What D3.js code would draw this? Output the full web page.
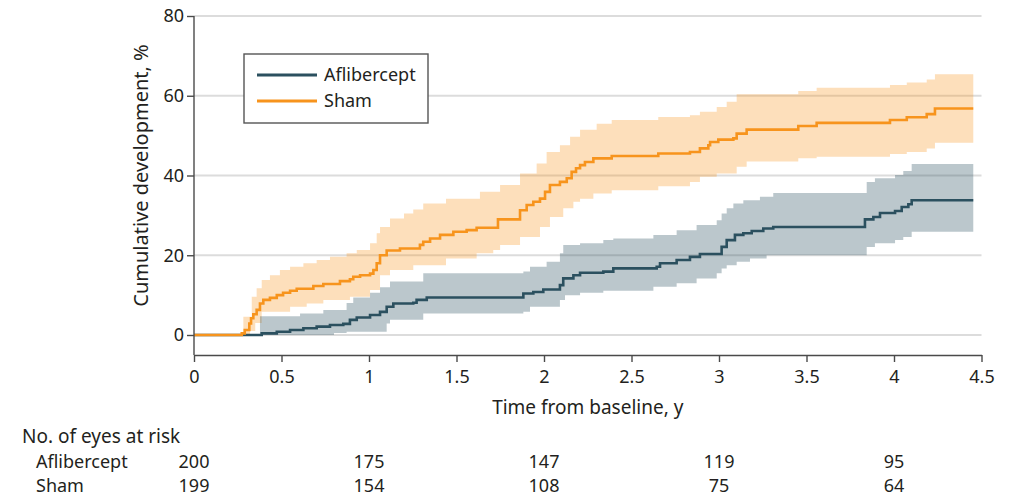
<!DOCTYPE html>
<meta charset="utf-8">
<style>
body { margin: 0; background: #fff; font-family: "Noto Sans", sans-serif; }
.grid line { stroke: #dcdcdc; stroke-width: 2; }
.axis path, .axis line { stroke: #4a4a4a; stroke-width: 1.4; }
.axis text { font-size: 18px; fill: #231f20; font-family: "Noto Sans", sans-serif; }
.lbl { fill: #231f20; }
</style>
<body>
<script src="https://cdnjs.cloudflare.com/ajax/libs/d3/7.8.5/d3.min.js"></script>
<script>
// ---------------- data ----------------
var tEnd = 4.453;

// Sham: Kaplan-Meier estimate (cumulative %)
var shamT   = [0, 0.273, 0.29, 0.316, 0.326, 0.339, 0.358, 0.377, 0.396, 0.434, 0.473, 0.509, 0.549, 0.587, 0.682, 0.739, 0.834, 0.891, 0.91, 0.949, 1.006, 1.025, 1.044, 1.063, 1.101, 1.177, 1.291, 1.31, 1.349, 1.406, 1.482, 1.558, 1.615, 1.737, 1.863, 1.901, 1.939, 1.977, 2.006, 2.034, 2.091, 2.13, 2.158, 2.183, 2.206, 2.234, 2.282, 2.387, 2.653, 2.834, 2.891, 2.939, 2.949, 2.996, 3.082, 3.101, 3.158, 3.453, 3.558, 3.977, 4.073, 4.187, 4.234];
var shamEst = [0, 0.4, 1.25, 2.9, 4.2, 5.2, 6.3, 7.9, 8.8, 9.3, 10, 10.6, 11.1, 11.6, 12.3, 12.8, 13.5, 14, 14.6, 15, 15.4, 16.3, 18, 20, 21.2, 21.7, 22.6, 23.4, 24.2, 25.1, 25.9, 26.3, 26.9, 29, 31.3, 32.6, 33.4, 34.2, 35.9, 37.6, 38.4, 39.3, 40.9, 41.8, 42.6, 43.4, 44.3, 44.9, 45.5, 45.9, 46.8, 47.6, 48.4, 49, 49.3, 50.5, 51.5, 52.4, 53.2, 53.9, 54.6, 55.4, 56.8];
// Sham: 95% CI
var shamBandT = [0.273, 0.282, 0.32, 0.33, 0.35, 0.358, 0.387, 0.434, 0.491, 0.549, 0.625, 0.644, 0.701, 0.739, 0.777, 0.872, 0.891, 0.93, 1.006, 1.044, 1.063, 1.12, 1.2, 1.253, 1.31, 1.44, 1.615, 1.634, 1.71, 1.749, 1.863, 1.958, 1.977, 2.015, 2.034, 2.091, 2.11, 2.149, 2.168, 2.206, 2.282, 2.301, 2.387, 2.653, 2.834, 2.891, 2.987, 3.044, 3.101, 3.158, 3.453, 3.558, 3.977, 4.073, 4.187, 4.234];
var shamLo = [0, 0, 1, 1, 3, 3, 5.8, 5.8, 5.8, 7.1, 7.1, 7.9, 7.9, 8.8, 8.8, 8.8, 9.6, 9.6, 11.3, 11.3, 15, 16.3, 16.3, 17.5, 17.5, 19.2, 20.5, 20.5, 21.3, 22.6, 24.6, 24.6, 27.1, 27.1, 29.6, 29.6, 31.8, 31.8, 33.4, 34.2, 35.5, 35.5, 36.3, 37.3, 38.4, 39.7, 40.5, 40.5, 42.2, 43.5, 44.3, 44.7, 45.4, 45.9, 46.8, 48.2];
var shamHi = [0, 4.6, 4.6, 9.6, 9.6, 11.7, 13.8, 15, 16.3, 17.1, 18, 18, 18.8, 18.8, 19.6, 20.5, 20.5, 21.3, 23, 25.5, 27.1, 29.2, 30.5, 31.5, 33, 34.2, 34.2, 35.9, 35.9, 37.6, 40.5, 43, 43, 45.9, 45.9, 47.6, 47.6, 49.7, 49.7, 51.5, 51.5, 53, 53.9, 54.7, 55.1, 56, 57.2, 58.5, 60.4, 60.4, 61.2, 62, 62.7, 63.3, 64.1, 65.4];

// Aflibercept: Kaplan-Meier estimate (cumulative %)
var aflT   = [0, 0.33, 0.387, 0.473, 0.549, 0.625, 0.701, 0.777, 0.853, 0.891, 0.93, 1.006, 1.063, 1.101, 1.139, 1.253, 1.272, 1.33, 1.882, 1.939, 1.996, 2.091, 2.11, 2.168, 2.206, 2.339, 2.396, 2.644, 2.663, 2.758, 2.834, 2.891, 3.015, 3.044, 3.091, 3.139, 3.187, 3.253, 3.31, 3.834, 3.882, 3.92, 4.006, 4.044, 4.082, 4.101];
var aflEst = [0, 0, 0.4, 0.8, 1.25, 1.7, 2.1, 2.5, 2.8, 3.8, 4.4, 5, 5.8, 7.1, 7.9, 8.1, 8.8, 9.4, 10.4, 10.8, 11.4, 12.5, 14.2, 15, 15.6, 15.9, 16.7, 17.1, 18, 18.8, 19.6, 20.3, 22.1, 23.8, 25.1, 25.5, 26.1, 26.7, 27.1, 29, 29.6, 30.6, 31.1, 32.1, 32.8, 33.8];
// Aflibercept: 95% CI
var aflBandT = [0.377, 0.606, 0.739, 0.8, 0.872, 0.91, 1.006, 1.063, 1.101, 1.12, 1.31, 1.882, 1.92, 2.015, 2.091, 2.11, 2.12, 2.206, 2.339, 2.396, 2.625, 2.758, 2.872, 2.987, 3.015, 3.044, 3.082, 3.101, 3.139, 3.177, 3.234, 3.272, 3.31, 3.844, 3.891, 4.006, 4.053, 4.101];
var aflLo = [0, 0, 0, 0.5, 0.8, 0.8, 0.8, 0.8, 2.9, 3.8, 5.4, 5.8, 7.1, 7.1, 8.8, 8.8, 10, 10.6, 11.1, 11.1, 12.1, 13, 14.2, 15.5, 16.7, 17.5, 17.5, 18.4, 18.4, 19.2, 19.2, 20, 20, 22.1, 23, 23.8, 24.6, 25.9];
var aflHi = [4.7, 5.4, 6.3, 6.3, 8, 9.4, 10.6, 12, 12, 13.4, 15.5, 15.9, 17.1, 18.4, 20.5, 22.6, 22.6, 23, 23.8, 24.2, 25.1, 26.3, 27.6, 28.8, 30.5, 31.8, 33, 33, 33.8, 33.8, 34.7, 34.7, 35.6, 38.4, 39.3, 40.1, 41.1, 42.9];

// axes and number-at-risk table
var xTicks = [0, 0.5, 1, 1.5, 2, 2.5, 3, 3.5, 4, 4.5];
var yTicks = [0, 20, 40, 60, 80];
var riskT = [0, 1, 2, 3, 4];
var aflRisk = [200, 175, 147, 119, 95];
var shamRisk = [199, 154, 108, 75, 64];

var tealColor = "#2b505f", orangeColor = "#f7941d";

// ---------------- drawing ----------------
var W = 1012, H = 496;
var svg = d3.select("body").append("svg").attr("width", W).attr("height", H);

var x = d3.scaleLinear().domain([0, 4.5]).range([194, 981.5]);
var y = d3.scaleLinear().domain([0, 80]).range([335, 16]);
var xAxisY = 355;

// gridlines
svg.append("g").attr("class", "grid")
  .selectAll("line").data(yTicks).enter().append("line")
    .attr("x1", x(0)).attr("x2", x(4.5))
    .attr("y1", function(d) { return y(d); }).attr("y2", function(d) { return y(d); });

function pts(ts, vs) {
  var p = ts.map(function(t, i) { return [t, vs[i]]; });
  p.push([tEnd, vs[vs.length - 1]]);
  return p;
}
function bandPts(ts, lo, hi) {
  var p = ts.map(function(t, i) { return [t, lo[i], hi[i]]; });
  p.push([tEnd, lo[lo.length - 1], hi[hi.length - 1]]);
  return p;
}

var area = d3.area().curve(d3.curveStepAfter)
  .x(function(d) { return x(d[0]); })
  .y0(function(d) { return y(d[1]); })
  .y1(function(d) { return y(d[2]); });

var line = d3.line().curve(d3.curveStepAfter)
  .x(function(d) { return x(d[0]); })
  .y(function(d) { return y(d[1]); });

svg.append("path").datum(bandPts(shamBandT, shamLo, shamHi))
  .attr("d", area).attr("fill", orangeColor).attr("fill-opacity", 0.3);
svg.append("path").datum(bandPts(aflBandT, aflLo, aflHi))
  .attr("d", area).attr("fill", tealColor).attr("fill-opacity", 0.32);

svg.append("path").datum(pts(aflT, aflEst))
  .attr("d", line).attr("fill", "none").attr("stroke", tealColor).attr("stroke-width", 2.6);
svg.append("path").datum(pts(shamT, shamEst))
  .attr("d", line).attr("fill", "none").attr("stroke", orangeColor).attr("stroke-width", 2.6);

// axes
var yAxis = svg.append("g").attr("class", "axis")
  .attr("transform", "translate(" + x(0) + ",0)")
  .call(d3.axisLeft(y).tickValues(yTicks).tickSize(7).tickSizeOuter(0).tickPadding(3));
yAxis.select(".domain").remove();
yAxis.append("line").attr("x1", 0).attr("x2", 0).attr("y1", y(80)).attr("y2", xAxisY);

var xAxis = svg.append("g").attr("class", "axis")
  .attr("transform", "translate(0," + xAxisY + ")")
  .call(d3.axisBottom(x).tickValues(xTicks).tickFormat(function(d) { return d; })
    .tickSize(7).tickSizeOuter(0).tickPadding(8));

// axis titles
svg.append("text").attr("class", "lbl")
  .attr("transform", "translate(148," + ((y(0) + y(80)) / 2) + ") rotate(-90)")
  .attr("text-anchor", "middle").style("font-size", "20px")
  .text("Cumulative development, %");

svg.append("text").attr("class", "lbl")
  .attr("x", (x(0) + x(4.5)) / 2).attr("y", 414)
  .attr("text-anchor", "middle").style("font-size", "19px")
  .text("Time from baseline, y");

// legend
var lg = svg.append("g");
lg.append("rect").attr("x", 244).attr("y", 54).attr("width", 184).attr("height", 69)
  .attr("fill", "#fff").attr("stroke", "#555").attr("stroke-width", 1.4);
[["Aflibercept", tealColor, 75], ["Sham", orangeColor, 101]].forEach(function(d) {
  lg.append("line").attr("x1", 257).attr("x2", 317).attr("y1", d[2]).attr("y2", d[2])
    .attr("stroke", d[1]).attr("stroke-width", 2.8);
  lg.append("text").attr("class", "lbl").attr("x", 324).attr("y", d[2] + 6)
    .style("font-size", "18px").text(d[0]);
});

// number at risk
svg.append("text").attr("class", "lbl").attr("x", 22).attr("y", 443)
  .style("font-size", "19px").text("No. of eyes at risk");
[["Aflibercept", aflRisk, 468], ["Sham", shamRisk, 492]].forEach(function(r) {
  svg.append("text").attr("class", "lbl").attr("x", 36).attr("y", r[2])
    .style("font-size", "18px").text(r[0]);
  svg.selectAll(null).data(r[1]).enter().append("text").attr("class", "lbl")
    .attr("x", function(d, i) { return x(riskT[i]); }).attr("y", r[2])
    .attr("text-anchor", "middle").style("font-size", "18px")
    .text(function(d) { return d; });
});
</script>
</body>
